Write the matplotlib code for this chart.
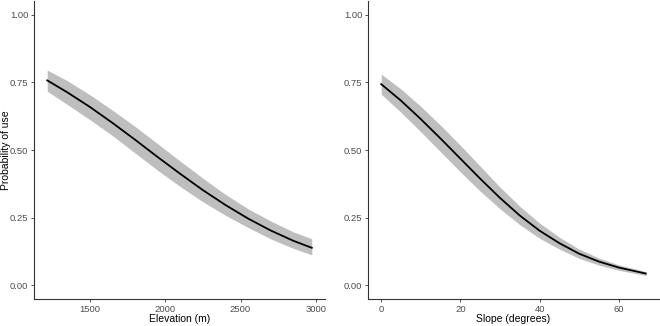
import matplotlib
matplotlib.use("Agg")
import matplotlib.pyplot as plt
from matplotlib.ticker import FormatStrFormatter

plt.rcParams['font.family'] = ['Liberation Sans', 'DejaVu Sans']

# Elevation panel
elev = [1217, 1350, 1500, 1650, 1800, 1950, 2100, 2250, 2400, 2550, 2700, 2850, 2973]
elev_p = [0.757, 0.713, 0.659, 0.600, 0.538, 0.474, 0.412, 0.352, 0.297, 0.247, 0.203, 0.165, 0.139]
elev_lo = [0.717, 0.668, 0.612, 0.553, 0.489, 0.425, 0.365, 0.309, 0.259, 0.214, 0.172, 0.137, 0.113]
elev_hi = [0.795, 0.756, 0.704, 0.647, 0.587, 0.523, 0.459, 0.396, 0.336, 0.283, 0.238, 0.198, 0.172]

# Slope panel
slope = [0, 5, 10, 15, 20, 25, 30, 35, 40, 45, 50, 55, 60, 66.8]
slope_p = [0.743, 0.682, 0.614, 0.542, 0.468, 0.394, 0.323, 0.258, 0.202, 0.156, 0.117, 0.088, 0.066, 0.044]
slope_lo = [0.706, 0.639, 0.567, 0.493, 0.419, 0.348, 0.283, 0.224, 0.174, 0.134, 0.100, 0.075, 0.056, 0.037]
slope_hi = [0.780, 0.725, 0.661, 0.591, 0.517, 0.440, 0.363, 0.292, 0.230, 0.178, 0.134, 0.101, 0.076, 0.051]

yticks = [0.0, 0.25, 0.5, 0.75, 1.0]
elev_ticks = [1500, 2000, 2500, 3000]
slope_ticks = [0, 20, 40, 60]

fig = plt.figure(figsize=(6.6, 3.26), dpi=100)
ax1 = fig.add_axes([34/660, 27/326, 291/660, 298/326])
ax2 = fig.add_axes([368/660, 27/326, 291/660, 298/326])

band_col = '#BEBEBE'
for ax, x, p, lo, hi, xt, xl in [
    (ax1, elev, elev_p, elev_lo, elev_hi, elev_ticks, 'Elevation (m)'),
    (ax2, slope, slope_p, slope_lo, slope_hi, slope_ticks, 'Slope (degrees)'),
]:
    ax.fill_between(x, lo, hi, color=band_col, linewidth=0)
    ax.plot(x, p, color='black', linewidth=1.3)
    rng = x[-1] - x[0]
    ax.set_xlim(x[0] - 0.05 * rng, x[-1] + 0.05 * rng)
    ax.set_ylim(-0.05, 1.05)
    ax.set_xticks(xt)
    ax.set_yticks(yticks)
    ax.yaxis.set_major_formatter(FormatStrFormatter('%.2f'))
    for s in ['top', 'right']:
        ax.spines[s].set_visible(False)
    for s in ['left', 'bottom']:
        ax.spines[s].set_color('#333333')
        ax.spines[s].set_linewidth(0.8)
    ax.tick_params(axis='both', colors='#333333', labelcolor='#4D4D4D',
                   labelsize=6.8, length=2.5, width=0.6, pad=1.5)
    ax.set_xlabel(xl, fontsize=7.5, color='black', va='center')
    ax.xaxis.set_label_coords(0.5, -0.068)

ax1.set_ylabel('Probability of use', fontsize=7.5, color='black', va='center')
ax1.yaxis.set_label_coords(-0.095, 0.5)

fig.savefig('out.png', dpi=100)
